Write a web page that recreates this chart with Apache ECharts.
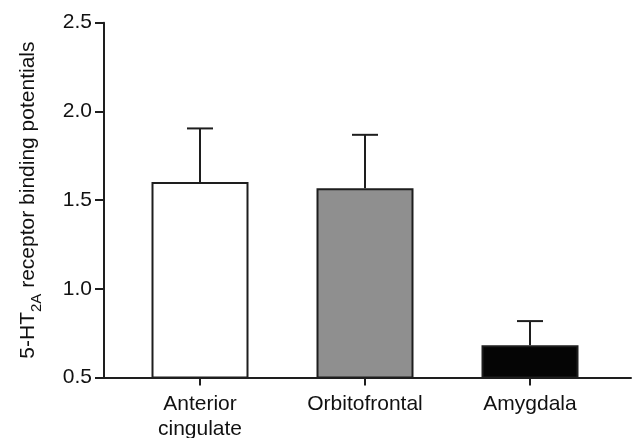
<!DOCTYPE html>
<html>
<head>
<meta charset="utf-8">
<script src="https://cdn.jsdelivr.net/npm/echarts@6/dist/echarts.min.js"></script>
<style>html,body{margin:0;padding:0;background:#fff}#c{width:632px;height:438px}</style>
</head>
<body>
<div id="c"></div>
<script>
const categories = ['Anterior\ncingulate', 'Orbitofrontal', 'Amygdala'];
const means = [1.602, 1.567, 0.682];
const errors = [0.302, 0.301, 0.136];
const yTicks = [0.5, 1.0, 1.5, 2.0, 2.5];

const barColors = ['#ffffff', '#8f8f8f', '#050505'];
const ink = '#1e1e1e';
const font = 'Liberation Sans, Arial, Helvetica, sans-serif';

const chart = echarts.init(document.getElementById('c'), null, {renderer: 'canvas'});
const gTop = 22.7, gBottom = 60.5;
chart.setOption({
  animation: false,
  backgroundColor: '#fff',
  grid: [
    {left: 104, right: 1, top: gTop, bottom: gBottom, containLabel: false, outerBoundsMode: 'none'},
    {left: 117.5, width: 495, top: gTop, bottom: gBottom, containLabel: false, outerBoundsMode: 'none'}
  ],
  xAxis: [
    {gridIndex: 0, type: 'value', min: 0, max: 1,
     axisLine: {show: true, lineStyle: {color: ink, width: 2}},
     axisTick: {show: false}, axisLabel: {show: false}, splitLine: {show: false}},
    {gridIndex: 1, type: 'category', data: categories,
     axisLine: {show: false},
     axisTick: {show: true, alignWithLabel: true, length: 8, lineStyle: {color: ink, width: 2}},
     axisLabel: {margin: 14, fontSize: 21, lineHeight: 25, color: '#111', fontFamily: font},
     splitLine: {show: false}}
  ],
  yAxis: [
    {gridIndex: 0, type: 'value', min: yTicks[0], max: yTicks[yTicks.length - 1], interval: 0.5,
     axisLine: {show: true, lineStyle: {color: ink, width: 2}},
     axisTick: {show: true, length: 9, lineStyle: {color: ink, width: 2}},
     axisLabel: {margin: 12, fontSize: 21, color: '#111', fontFamily: font,
                 formatter: v => v.toFixed(1)},
     splitLine: {show: false},
     name: '{a|5-HT}{s|2A}{a| receptor binding potentials}',
     nameLocation: 'middle', nameGap: 65, nameRotate: 90,
     nameTextStyle: {
       fontFamily: font, color: '#111',
       rich: {
         a: {fontSize: 21, fontFamily: font, color: '#111', lineHeight: 26, verticalAlign: 'bottom'},
         s: {fontSize: 15, fontFamily: font, color: '#111', lineHeight: 26, verticalAlign: 'bottom', padding: [0, 0, -5, 0]}
       }
     }},
    {gridIndex: 1, type: 'value', min: yTicks[0], max: yTicks[yTicks.length - 1], interval: 0.5, show: false}
  ],
  series: [
    {type: 'custom', xAxisIndex: 1, yAxisIndex: 1, z: 1,
     data: means.map((m, i) => [i, m, m + errors[i]]),
     renderItem: function (params, api) {
       const p0 = api.coord([api.value(0), api.value(1)]);
       const p1 = api.coord([api.value(0), api.value(2)]);
       const x = Math.round(p0[0]);
       const half = 13;
       return {type: 'group', children: [
         {type: 'line', shape: {x1: x, y1: p0[1], x2: x, y2: p1[1]}, style: {stroke: ink, lineWidth: 2}},
         {type: 'line', shape: {x1: x - half, y1: p1[1], x2: x + half, y2: p1[1]}, style: {stroke: ink, lineWidth: 2}}
       ]};
     }},
    {type: 'bar', xAxisIndex: 1, yAxisIndex: 1, z: 2, barWidth: 97,
     data: means.map((m, i) => ({value: m, itemStyle: {color: barColors[i]}})),
     itemStyle: {borderColor: ink, borderWidth: 2}}
  ]
});
</script>
</body>
</html>
